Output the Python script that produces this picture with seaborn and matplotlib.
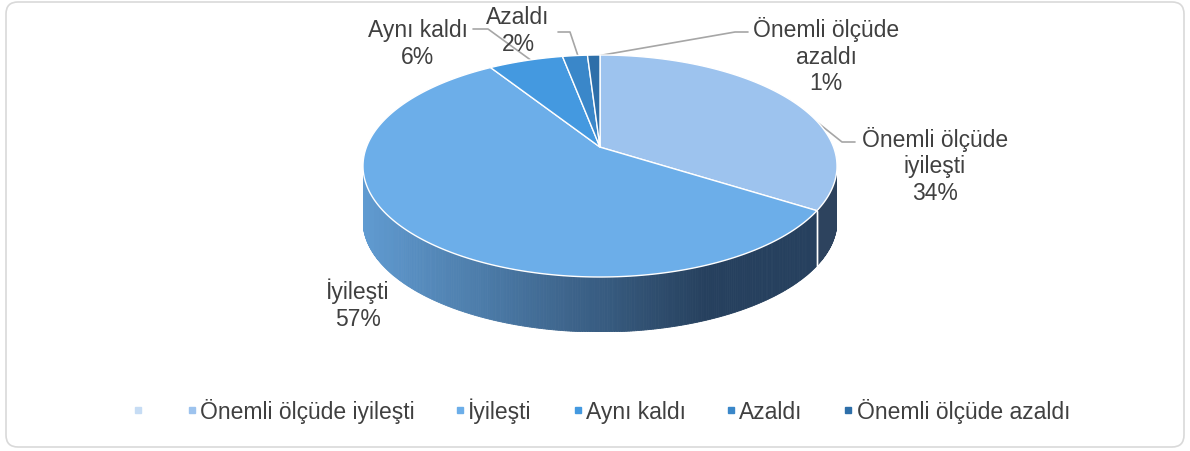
import numpy as np
import matplotlib
matplotlib.use("Agg")
import matplotlib.pyplot as plt
from matplotlib.patches import Polygon, FancyBboxPatch
from matplotlib.lines import Line2D
from matplotlib.path import Path
from matplotlib.transforms import Transform, Affine2D
import seaborn as sns

# data
categories = ["", "Önemli ölçüde iyileşti", "İyileşti", "Aynı kaldı", "Azaldı", "Önemli ölçüde azaldı"]
values = [0, 34, 57, 6, 2, 1]
colors = ["#c6dcf4", "#9dc3ee", "#6caee9", "#4499e0", "#3a87c9", "#2e6fa9"]

sns.set_theme(style="white")
plt.rcParams["font.family"] = ["Liberation Sans", "DejaVu Sans"]
TXT = "#404040"

E = 0.17  # perspective strength (far side smaller), like excel 3d pie


class Persp(Transform):
    """project unit-circle pie onto a tilted, perspective ellipse (normalised to unit circle)"""
    input_dims = output_dims = 2
    is_separable = False
    has_inverse = False

    def transform_non_affine(self, v):
        v = np.asarray(v, float)
        x, y = v[:, 0], v[:, 1]
        z = 1 + E * y
        return np.column_stack([x / z * np.sqrt(1 - E**2), y / z * (1 - E**2) + E])

    def transform_path_non_affine(self, path):
        # flatten curves finely before projecting
        big = path.transformed(Affine2D().scale(2000))
        verts = np.vstack(big.to_polygons(closed_only=True)) / 2000
        return Path(self.transform_non_affine(verts), closed=True)


W, H = 1190, 452
fig = plt.figure(figsize=(W / 100, H / 100), dpi=100)
fig.patch.set_facecolor("white")

# overlay axes in pixel units for labels, leaders, legend, frame
ov = fig.add_axes([0, 0, 1, 1])
ov.set_xlim(0, W)
ov.set_ylim(H, 0)
ov.axis("off")

# pie geometry (pixels)
rx, ry, depth = 237, 111, 55
cx, top = 600, 56
d = depth / ry
ax = fig.add_axes([(cx - rx) / W, (H - (top + 2 * ry + depth)) / H,
                   2 * rx / W, (2 * ry + depth) / H])
wedges, _ = ax.pie(values, colors=colors, startangle=90, counterclock=False,
                   wedgeprops=dict(edgecolor="white", linewidth=1, zorder=3))
persp = Persp()
for w in wedges:
    w.set_transform(persp + ax.transData)
ax.set_aspect("auto")
ax.set_xlim(-1, 1)
ax.set_ylim(-1 - d, 1)
ax.axis("off")

# 3d side wall of the visible front arc, shaded left->right
front = (180 + np.degrees(np.arcsin(E)), 360 - np.degrees(np.arcsin(E)))
for w, base in zip(wedges, colors):
    span = w.theta2 - w.theta1
    if span <= 0:
        continue
    t1 = w.theta1 % 360
    t2 = t1 + span
    pal = sns.blend_palette([base, "#1c3049"], 101)
    for lo, hi in [front, (front[0] + 360, front[1] + 360)]:
        a, b = max(t1, lo), min(t2, hi)
        if b <= a:
            continue
        angs = np.radians(np.linspace(a, b, max(2, int((b - a) * 2) + 1)))
        rim = persp.transform_non_affine(np.column_stack([np.cos(angs), np.sin(angs)]))
        for p0, p1 in zip(rim[:-1], rim[1:]):
            xm = (p0[0] + p1[0]) / 2
            f = 0.15 + 0.72 * np.clip((xm + 1) / 1.45, 0, 1)
            c = pal[int(round(f * 100))]
            pts = [p0, p1, (p1[0], p1[1] - d), (p0[0], p0[1] - d)]
            ax.add_patch(Polygon(pts, closed=True, fc=c, ec=c, lw=0.6, zorder=1))
        for e, p in ((a, rim[0]), (b, rim[-1])):
            if lo < e < hi:
                ax.plot([p[0], p[0]], [p[1], p[1] - d], color="white", lw=1, zorder=2)

# data labels with leader lines
label_pos = {1: (935, 166), 2: (358, 305), 3: (418, 44), 4: (518, 31), 5: (826, 56)}
leaders = {1: [(788, 100), (842, 143), (855, 143)],
           3: [(532, 62), (488, 30), (473, 30)],
           4: [(578, 57), (570, 33), (558, 33)],
           5: [(597, 57), (735, 33), (748, 33)]}
for i, (name, v) in enumerate(zip(categories, values)):
    if i not in label_pos:
        continue
    txt = name.replace("ölçüde ", "ölçüde\n") + f"\n{v}%"
    x, y = label_pos[i]
    ov.text(x, y, txt, ha="center", va="center", fontsize=16.5, color=TXT,
            linespacing=1.2)
    if i in leaders:
        xs, ys = zip(*leaders[i])
        ov.plot(xs, ys, color="#a6a6a6", lw=1.2)

# legend
handles = [Line2D([], [], marker="s", linestyle="", color=c, markersize=4.5) for c in colors]
ov.legend(handles, categories, loc="center", bbox_to_anchor=(601, 411),
          bbox_transform=ov.transData, ncol=6, frameon=False, fontsize=16.5,
          handlelength=0.5, handletextpad=0.1, columnspacing=1.75, labelcolor=TXT)

# chart frame
ov.add_patch(FancyBboxPatch((6, 3), W - 12, H - 7,
                            boxstyle="round,pad=0,rounding_size=12",
                            ec="#d9d9d9", fc="none", lw=1.2))

fig.savefig("out.png", dpi=100)
